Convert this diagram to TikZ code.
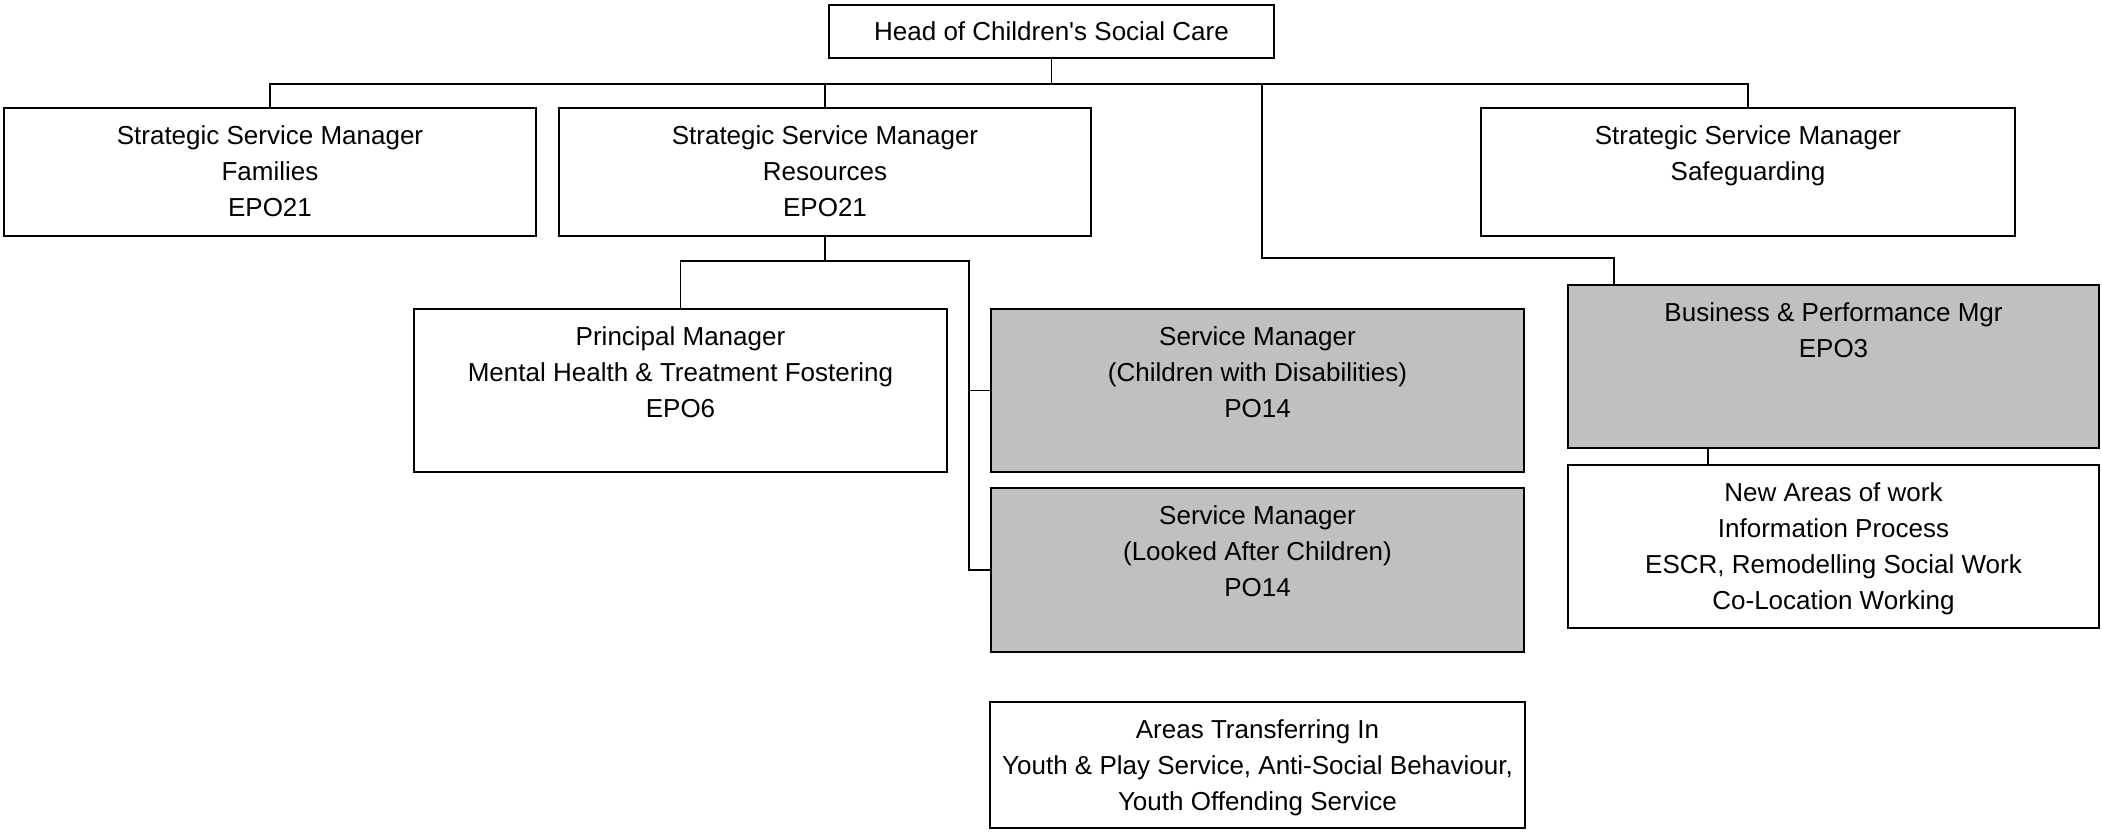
\documentclass[tikz,border=0pt]{standalone}
\usepackage{fontspec}
\setmainfont{Liberation Sans}[Ligatures=TeXOff]
\usetikzlibrary{positioning}
\definecolor{boxgrey}{RGB}{192,192,192}
\tikzset{
  post/.style={draw,line width=2pt,minimum width=533pt,minimum height=#1,inner sep=0pt},
  post/.default=163pt,
  txt/.style={anchor=north,yshift=-18pt,align=center,inner sep=0pt},
  link/.style={line width=1.4pt}
}
\begin{document}
\begin{tikzpicture}[x=1pt,y=-1pt,font=\fontsize{26}{36}\selectfont]
\useasboundingbox (0,0) rectangle (2102,832);
% top
\node[post=53pt,minimum width=445pt] (head) at (1051.5,31.5){Head of Children's Social Care};
% strategic managers
\node[post=128pt,minimum width=532pt,label={[txt]north:{Strategic Service Manager\\Families\\EPO21}}] (fam) at (270,172){};
\node[post=128pt,minimum width=532pt,label={[txt]north:{Strategic Service Manager\\Resources\\EPO21}}] (res) at (825,172){};
\node[post=128pt,minimum width=534pt,label={[txt]north:{Strategic Service Manager\\Safeguarding}}] (safe) at (1748,172){};
% second level
\node[post,label={[txt]north:{Principal Manager\\Mental Health \& Treatment Fostering\\EPO6}}] (prin) at (680.5,390.5){};
\node[post,fill=boxgrey,label={[txt]north:{Service Manager\\(Children with Disabilities)\\PO14}}] (cwd) at (1257.5,390.5){};
\node[post=164pt,fill=boxgrey,label={[txt]north:{Service Manager\\(Looked After Children)\\PO14}}] (lac) at (1257.5,570){};
\node[post=126pt,minimum width=535pt,label={[txt]north:{Areas Transferring In\\Youth \& Play Service, Anti-Social Behaviour,\\Youth Offending Service}}] (areas) at (1257.5,765){};
\node[post,minimum width=531pt,fill=boxgrey,label={[txt]north:{Business \& Performance Mgr\\EPO3}}] (bpm) at (1833.5,366.5){};
\node[post,minimum width=531pt,label={[txt]north:{New Areas of work\\Information Process\\ESCR, Remodelling Social Work\\Co-Location Working}}] (new) at (1833.5,546.5){};

\coordinate (split) at (1262,83);
\coordinate (bpmin) at (1614,285);
\coordinate (rail) at (969,260);
\coordinate (stem) at (1708,448);

\path[draw,link] (head.south) -- ++(0,25) -| (fam.north);
\path[draw,link] (head.south) -- ++(0,25) -| (res.north);
\path[draw,link] (head.south) -- ++(0,25) -| (safe.north);
\path[draw,link] (split) -- ++(0,175) -| (bpmin);
\path[draw,link] (res.south) -- ++(0,24) -| (prin.north);
\path[draw,link] (res.south) -- ++(0,24) -| (rail) |- (lac.west);
\path[draw,link] (rail |- cwd.west) -- (cwd.west);
\path[draw,link] (stem) -- (stem |- new.north);
\end{tikzpicture}
\end{document}
